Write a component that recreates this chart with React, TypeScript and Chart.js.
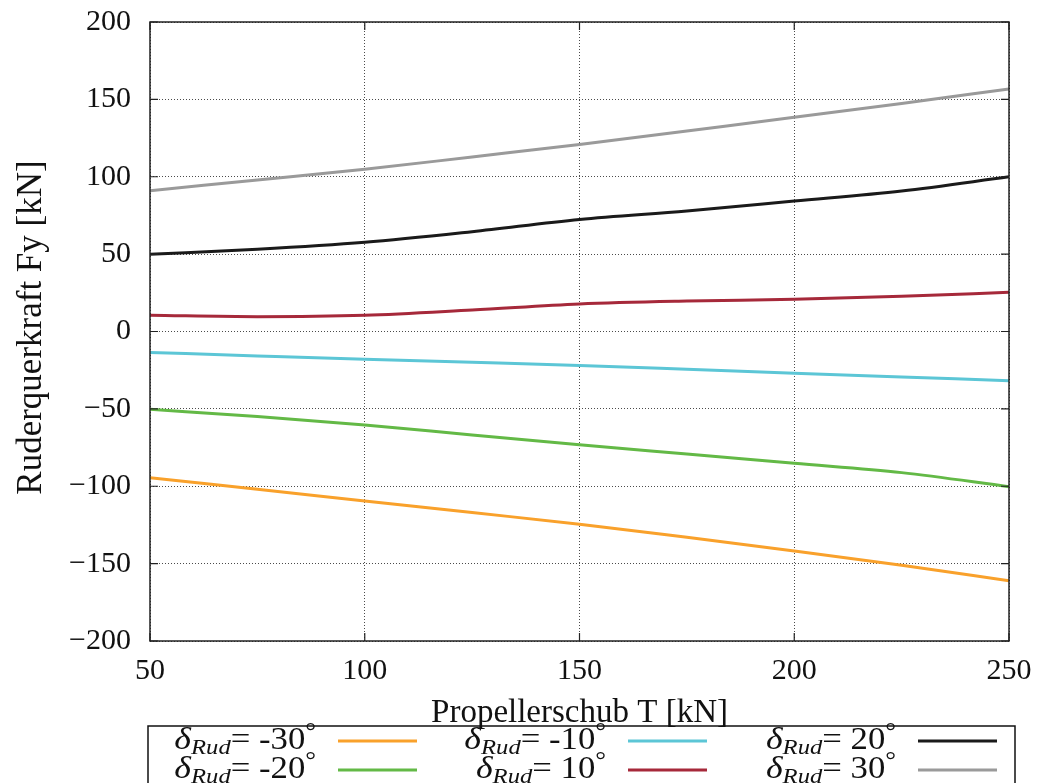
import React, { useEffect, useRef } from 'react';
import { Chart, registerables } from 'chart.js';

Chart.register(...registerables);

// Propeller thrust T [kN]
const THRUST = [50, 75, 100, 125, 150, 175, 200, 225, 250];

// Rudder lateral force Fy [kN] per rudder angle
const FY_RUD_M30 = [-94.5, -102, -109.5, -117, -124.5, -133, -141.8, -151, -161];
const FY_RUD_M20 = [-50.3, -55, -60.4, -66.9, -73.2, -79.2, -85.2, -91.2, -100.3];
const FY_RUD_M10 = [-13.5, -15.8, -18, -19.9, -21.9, -24.4, -27, -29.4, -31.8];
const FY_RUD_P10 = [10.5, 9.6, 10.5, 13.9, 17.8, 19.7, 20.8, 22.7, 25.3];
const FY_RUD_P20 = [49.9, 53.1, 57.6, 64.5, 72.4, 77.9, 84.3, 90.8, 100];
const FY_RUD_P30 = [91, 97.9, 104.8, 112.8, 120.8, 129.6, 138.4, 147.4, 156.7];

const RUDDER_ANGLES = ['-30', '-20', '-10', '10', '20', '30'];
const SERIES = [FY_RUD_M30, FY_RUD_M20, FY_RUD_M10, FY_RUD_P10, FY_RUD_P20, FY_RUD_P30];
const SERIES_COLORS = ['#f9a12b', '#63b946', '#5cc6d6', '#a6293a', '#1a1a1a', '#9a9a9a'];

const X_TICKS = [50, 100, 150, 200, 250];
const Y_TICKS = [-200, -150, -100, -50, 0, 50, 100, 150, 200];

const X_TITLE = 'Propellerschub T [kN]';
const Y_TITLE = 'Ruderquerkraft Fy [kN]';

const FONT = '"Liberation Serif", "DejaVu Serif", serif';

// Legend entry "δ_Rud= angle°", right-aligned at rightX, slightly widened
function drawLegendLabel(ctx: CanvasRenderingContext2D, rightX: number, baseline: number, angle: string) {
  const stretch = 1.12;
  const parts = [
    { t: '\u03B4', font: `italic 32px ${FONT}`, dy: 0 },
    { t: 'Rud', font: `italic 22px ${FONT}`, dy: 5 },
    { t: '= ' + angle, font: `31px ${FONT}`, dy: 0 },
    { t: '\u00B0', font: `24px ${FONT}`, dy: -10 },
  ];
  let total = 0;
  const widths = parts.map((p) => {
    ctx.font = p.font;
    const w = ctx.measureText(p.t).width;
    total += w;
    return w;
  });
  ctx.save();
  ctx.translate(rightX - total * stretch, baseline);
  ctx.scale(stretch, 1);
  let x = 0;
  parts.forEach((p, i) => {
    ctx.font = p.font;
    ctx.fillText(p.t, x, p.dy);
    x += widths[i];
  });
  ctx.restore();
}

const framePlugin = {
  id: 'gnuplotFrame',
  afterDatasetsDraw(chart: any) {
    const { ctx, chartArea: a, scales } = chart;
    const xs = scales.x;
    const ys = scales.y;
    ctx.save();

    // plot border
    ctx.strokeStyle = '#222';
    ctx.lineWidth = 1.5;
    ctx.strokeRect(a.left, a.top, a.right - a.left, a.bottom - a.top);

    // inward tick marks, mirrored on all sides
    ctx.lineWidth = 1.2;
    ctx.beginPath();
    Y_TICKS.forEach((v) => {
      const py = ys.getPixelForValue(v);
      ctx.moveTo(a.left, py);
      ctx.lineTo(a.left + 8, py);
      ctx.moveTo(a.right, py);
      ctx.lineTo(a.right - 8, py);
    });
    X_TICKS.forEach((v) => {
      const px = xs.getPixelForValue(v);
      ctx.moveTo(px, a.bottom);
      ctx.lineTo(px, a.bottom - 8);
      ctx.moveTo(px, a.top);
      ctx.lineTo(px, a.top + 8);
    });
    ctx.stroke();

    // axis titles
    ctx.fillStyle = '#111';
    ctx.font = `33px ${FONT}`;
    ctx.textAlign = 'center';
    ctx.textBaseline = 'alphabetic';
    ctx.fillText(X_TITLE, (a.left + a.right) / 2, 722);
    ctx.save();
    ctx.translate(41, (a.top + a.bottom) / 2 - 4);
    ctx.rotate(-Math.PI / 2);
    ctx.font = `35px ${FONT}`;
    ctx.fillText(Y_TITLE, 0, 0);
    ctx.restore();

    // legend box (open at the bottom edge of the canvas)
    const boxLeft = 148;
    const boxRight = 1015;
    const boxTop = 726;
    ctx.strokeStyle = '#111';
    ctx.lineWidth = 1.5;
    ctx.beginPath();
    ctx.moveTo(boxLeft, chart.height + 5);
    ctx.lineTo(boxLeft, boxTop);
    ctx.lineTo(boxRight, boxTop);
    ctx.lineTo(boxRight, chart.height + 5);
    ctx.stroke();

    ctx.textAlign = 'left';
    ctx.fillStyle = '#111';
    const rowBaselines = [749, 778];
    const rowLines = [741, 770];
    chart.data.datasets.forEach((ds: any, i: number) => {
      const col = Math.floor(i / 2);
      const row = i % 2;
      const textRight = 316 + col * 290;
      const sampleLeft = 338 + col * 290;
      drawLegendLabel(ctx, textRight, rowBaselines[row], RUDDER_ANGLES[i]);
      ctx.strokeStyle = ds.borderColor;
      ctx.lineWidth = 3;
      ctx.beginPath();
      ctx.moveTo(sampleLeft, rowLines[row]);
      ctx.lineTo(sampleLeft + 79, rowLines[row]);
      ctx.stroke();
    });

    ctx.restore();
  },
};

export default function App() {
  const canvasRef = useRef<HTMLCanvasElement | null>(null);

  useEffect(() => {
    if (!canvasRef.current) return;
    const datasets = SERIES.map((values, i) => ({
      label: RUDDER_ANGLES[i],
      data: THRUST.map((t, j) => ({ x: t, y: values[j] })),
      borderColor: SERIES_COLORS[i],
      backgroundColor: SERIES_COLORS[i],
      borderWidth: 3,
      pointRadius: 0,
      cubicInterpolationMode: 'monotone' as const,
      fill: false,
    }));

    const gridStyle = {
      drawTicks: false,
      color: 'rgba(30,30,30,0.8)',
      lineWidth: 1,
    };

    const chart = new Chart(canvasRef.current, {
      type: 'line',
      data: { datasets },
      options: {
        responsive: false,
        animation: false,
        layout: { padding: { top: 22, right: 28, bottom: 0, left: 0 } },
        plugins: { legend: { display: false }, tooltip: { enabled: false } },
        scales: {
          x: {
            type: 'linear',
            min: 50,
            max: 250,
            afterBuildTicks: (scale: any) => {
              scale.ticks = X_TICKS.map((v) => ({ value: v }));
            },
            afterFit: (scale: any) => {
              scale.height = 142;
              scale.paddingLeft = 0;
              scale.paddingRight = 0;
            },
            border: { display: false, dash: [1, 2] },
            grid: gridStyle,
            ticks: {
              padding: 12,
              color: '#111',
              font: { family: FONT, size: 30 },
              maxRotation: 0,
            },
          },
          y: {
            type: 'linear',
            min: -200,
            max: 200,
            afterBuildTicks: (scale: any) => {
              scale.ticks = Y_TICKS.map((v) => ({ value: v }));
            },
            afterFit: (scale: any) => {
              scale.width = 150;
              scale.paddingTop = 0;
              scale.paddingBottom = 0;
            },
            border: { display: false, dash: [1, 2] },
            grid: gridStyle,
            ticks: {
              padding: 19,
              color: '#111',
              font: { family: FONT, size: 30 },
              callback: (v: any) => String(v).replace('-', '\u2212'),
            },
          },
        },
      },
      plugins: [framePlugin],
    });
    return () => chart.destroy();
  }, []);

  return (
    <div style={{ position: 'absolute', left: 0, top: 0, width: 1037, height: 783, background: '#fff' }}>
      <canvas ref={canvasRef} width={1037} height={783} style={{ display: 'block' }} />
    </div>
  );
}
